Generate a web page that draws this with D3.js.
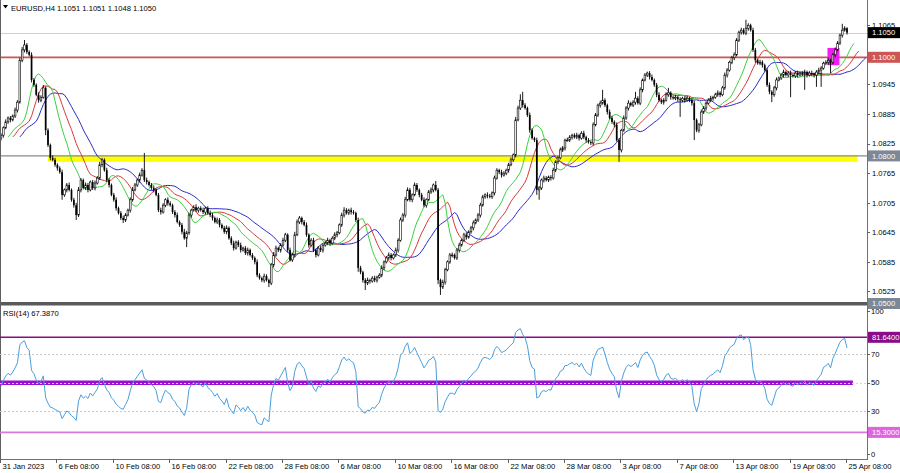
<!DOCTYPE html>
<html><head><meta charset="utf-8">
<script src="https://cdn.jsdelivr.net/npm/d3@7"></script>
<style>
html,body{margin:0;padding:0;background:#fff;}
svg{display:block;font-family:"Liberation Sans",Arial,sans-serif;}
</style></head><body>
<svg id="c" width="900" height="473"></svg>
<script>
// ---------------- DATA ----------------
const titleText = "EURUSD,H4  1.1051 1.1051 1.1048 1.1050";
const rsiTitle = "RSI(14) 67.3870";
const firstOpen = 1.0835;
const closes = [
1.0842,1.0857,1.0869,1.0877,1.0873,1.0881,1.0893,1.0909,1.0994,1.1015,
1.1025,1.1011,1.1005,1.0954,1.0944,1.0924,1.0913,1.0919,1.0938,1.0852,
1.0822,1.0796,1.0792,1.0782,1.0775,1.0767,1.0721,1.0731,1.0741,1.0731,
1.0711,1.0700,1.0680,1.0731,1.0751,1.0735,1.0741,1.0731,1.0747,1.0735,
1.0745,1.0755,1.0782,1.0792,1.0771,1.0751,1.0741,1.0721,1.0711,1.0694,
1.0684,1.0674,1.0670,1.0680,1.0690,1.0711,1.0731,1.0741,1.0751,1.0761,
1.0771,1.0751,1.0747,1.0741,1.0735,1.0731,1.0721,1.0690,1.0686,1.0700,
1.0711,1.0704,1.0700,1.0686,1.0680,1.0666,1.0660,1.0646,1.0633,1.0644,
1.0680,1.0690,1.0696,1.0690,1.0694,1.0690,1.0686,1.0694,1.0684,1.0680,
1.0674,1.0666,1.0670,1.0660,1.0654,1.0646,1.0654,1.0633,1.0623,1.0613,
1.0625,1.0619,1.0609,1.0613,1.0603,1.0609,1.0599,1.0593,1.0585,1.0558,
1.0552,1.0548,1.0556,1.0548,1.0542,1.0579,1.0599,1.0613,1.0609,1.0619,
1.0629,1.0640,1.0609,1.0589,1.0599,1.0640,1.0666,1.0674,1.0666,1.0660,
1.0640,1.0619,1.0629,1.0609,1.0599,1.0613,1.0609,1.0619,1.0623,1.0629,
1.0623,1.0633,1.0640,1.0644,1.0660,1.0680,1.0690,1.0684,1.0690,1.0686,
1.0684,1.0670,1.0573,1.0564,1.0548,1.0542,1.0548,1.0546,1.0552,1.0548,
1.0554,1.0558,1.0573,1.0585,1.0593,1.0599,1.0593,1.0599,1.0609,1.0629,
1.0670,1.0680,1.0711,1.0731,1.0711,1.0721,1.0741,1.0731,1.0721,1.0711,
1.0700,1.0711,1.0727,1.0731,1.0741,1.0731,1.0548,1.0534,1.0544,1.0569,
1.0585,1.0599,1.0599,1.0593,1.0609,1.0619,1.0629,1.0640,1.0635,1.0646,
1.0654,1.0664,1.0670,1.0680,1.0700,1.0717,1.0721,1.0719,1.0717,1.0725,
1.0755,1.0771,1.0767,1.0761,1.0765,1.0771,1.0782,1.0792,1.0802,1.0873,
1.0897,1.0913,1.0903,1.0897,1.0883,1.0852,1.0836,1.0832,1.0731,1.0735,
1.0751,1.0755,1.0751,1.0757,1.0755,1.0771,1.0788,1.0796,1.0812,1.0816,
1.0832,1.0832,1.0838,1.0842,1.0838,1.0842,1.0836,1.0846,1.0838,1.0832,
1.0828,1.0826,1.0863,1.0883,1.0903,1.0907,1.0913,1.0903,1.0889,1.0877,
1.0869,1.0863,1.0832,1.0812,1.0852,1.0877,1.0897,1.0907,1.0903,1.0909,
1.0917,1.0907,1.0934,1.0954,1.0964,1.0968,1.0960,1.0954,1.0944,1.0924,
1.0913,1.0909,1.0913,1.0924,1.0928,1.0919,1.0917,1.0919,1.0915,1.0913,
1.0917,1.0913,1.0917,1.0913,1.0907,1.0873,1.0852,1.0863,1.0889,1.0897,
1.0907,1.0913,1.0917,1.0919,1.0924,1.0928,1.0924,1.0938,1.0964,1.0974,
1.0990,1.0999,1.1005,1.1035,1.1051,1.1055,1.1049,1.1059,1.1065,1.1055,
1.1015,1.0994,1.0988,1.0990,1.0984,1.0974,1.0944,1.0930,1.0924,1.0938,
1.0954,1.0958,1.0964,1.0970,1.0964,1.0968,1.0964,1.0962,1.0968,1.0964,
1.0968,1.0966,1.0970,1.0964,1.0968,1.0966,1.0964,1.0970,1.0974,1.0978,
1.0988,1.0990,1.0994,1.0990,1.1005,1.1015,1.1029,1.1045,1.1055,1.1059,
1.1050];
const upWickPips = [
4,3,5,3,4,3,5,4,5,6, 10,4,3,5,4,3,5,4,6,3, 4,3,5,4,3,4,5,3,4,5, 3,4,5,6,4,3,5,4,3,4,
5,4,6,4,3,5,4,3,4,5, 3,4,5,4,3,5,6,4,3,5, 4,35,5,3,4,5,3,4,5,4, 3,5,4,3,4,5,3,4,6,4,
5,3,4,6,3,4,5,3,4,5, 4,3,5,4,3,4,5,3,4,5, 3,4,5,3,4,5,3,4,3,5, 4,3,5,4,3,4,6,5,3,4,
5,4,3,5,4,6,5,4,3,4, 5,3,4,5,3,4,5,3,4,5, 3,4,5,4,3,5,6,4,3,5, 4,3,5,4,3,4,5,3,4,5,
3,4,5,3,4,5,4,3,5,4, 5,4,6,5,4,3,5,4,3,4, 5,3,4,5,3,8,4,3,5,4, 3,4,5,3,4,5,3,4,5,3,
4,5,3,4,5,4,3,5,4,3, 5,4,3,5,4,3,4,5,3,6, 5,12,17,4,3,5,4,3,5,4, 3,5,4,3,4,5,3,4,5,4,
3,5,4,3,4,5,3,4,5,3, 4,3,5,4,3,5,21,4,3,5, 4,3,5,4,3,5,4,6,3,4, 13,4,5,3,4,3,4,5,3,4,
5,3,4,5,10,3,4,5,3,4, 3,4,5,3,4,5,3,4,5,4, 3,4,5,3,4,5,3,4,5,4, 3,4,5,4,3,5,4,17,4,3,
5,4,3,5,4,3,4,5,3,4, 5,3,4,5,3,4,5,3,4,5, 3,4,5,3,4,5,3,4,5,4, 3,4,5,3,4,5,4,3,13,4,
2];
const dnWickPips = [
4,5,3,4,5,3,4,5,3,4, 5,4,3,5,4,3,5,4,3,10, 4,5,3,4,5,3,10,4,5,3, 4,5,10,4,5,3,4,5,3,4,
5,3,4,5,3,4,5,3,4,5, 3,4,6,4,3,5,4,3,4,5, 3,4,5,3,4,5,3,4,5,3, 4,5,3,4,5,3,4,5,3,18,
4,5,3,4,5,3,4,5,3,4, 5,3,4,5,3,4,5,3,4,5, 3,4,5,3,4,5,3,4,5,4, 3,4,5,3,8,4,5,3,4,5,
3,4,5,3,4,5,3,4,5,3, 4,5,3,4,5,3,4,5,3,4, 5,3,4,5,3,4,5,3,4,5, 3,4,8,4,5,14,4,5,3,4,
5,3,4,5,3,4,5,3,4,5, 3,4,5,3,4,5,3,4,5,3, 4,5,3,4,5,3,8,16,4,5, 3,4,5,3,4,5,3,4,5,3,
4,5,3,4,5,3,4,5,3,4, 5,3,4,5,3,4,5,3,4,5, 3,4,5,3,4,5,3,4,10,20, 4,5,3,4,5,3,4,5,3,4,
5,3,4,5,3,4,5,3,4,5, 3,4,5,3,4,5,3,4,5,3, 4,5,3,24,5,3,4,5,3,4, 5,3,4,5,3,4,5,3,4,5,
3,4,5,3,4,5,3,4,5,34, 4,5,3,4,5,41,4,5,3,4, 5,3,4,5,3,4,5,3,4,5, 3,4,5,3,4,5,3,4,5,3,
4,5,3,4,5,3,4,5,15,4, 5,3,4,5,3,4,45,3,4,5, 3,4,32,5,3,4,5,24,4,34, 3,4,5,22,4,5,3,4,5,3,
4];
const timeLabels = ["31 Jan 2023","6 Feb 08:00","10 Feb 08:00","16 Feb 08:00","22 Feb 08:00","28 Feb 08:00","6 Mar 08:00","10 Mar 08:00","16 Mar 08:00","22 Mar 08:00","28 Mar 08:00","3 Apr 08:00","7 Apr 08:00","13 Apr 08:00","19 Apr 08:00","25 Apr 08:00"];
const timeLabelBars = [0,24,48,72,96,120,144,168,192,216,240,264,288,312,336,360];
const priceTicks = [1.0525,1.0585,1.0645,1.0705,1.0765,1.0825,1.0885,1.0945,1.1065];
const rsiTicks = [0,30,50,70,100];
const bidPrice = 1.1050;
const resistanceLevel = 1.1000;
const supportLevel = 1.0800;
const supportBand = [1.0788, 1.0801];
const supportBandBars = [20, 364.5];
const bottomLevel = 1.0500;
const pinkBoxBars = [351.7, 356.8];
const pinkBoxPrices = [1.0984, 1.1019];
const rsiHigh = 81.64, rsiLow = 15.30, rsiMid = 50;
// average gain / loss (pips) carried in from the bars before the first visible one
const rsiSeedGainPips = 6.5, rsiSeedLossPips = 7.2;
const alligator = [ {n:13, shift:8, color:"#2b2bc8"}, {n:8, shift:5, color:"#d83a3a"}, {n:5, shift:3, color:"#3cd03c"} ];

// ---------------- BUILD ----------------
const bars = closes.map((c,i)=>{
  const o = i===0 ? firstOpen : closes[i-1];
  return {i, o, c, h: Math.max(o,c)+upWickPips[i]*1e-4, l: Math.min(o,c)-dnWickPips[i]*1e-4};
});

const svg = d3.select("#c");
const W = 900, H = 473, plotR = 867, mainBottom = 302.5;
const x = d3.scaleLinear().domain([0,360]).range([1,847]);
const y = d3.scaleLinear().domain([1.05,1.1]).range([303.8,57.3]);
const yr = d3.scaleLinear().domain([0,100]).range([454.3,311]);

svg.append("rect").attr("width",W).attr("height",H).attr("fill","#fff");
const defs = svg.append("defs");
defs.append("clipPath").attr("id","mainClip").append("rect").attr("x",0).attr("y",0).attr("width",plotR).attr("height",mainBottom);
defs.append("clipPath").attr("id","rsiClip").append("rect").attr("x",0).attr("y",306).attr("width",plotR).attr("height",153);

const main = svg.append("g").attr("clip-path","url(#mainClip)");

// bid line
main.append("line").attr("x1",0).attr("x2",plotR).attr("y1",Math.round(y(bidPrice))+0.5).attr("y2",Math.round(y(bidPrice))+0.5)
  .attr("stroke","#d0d0d0").attr("stroke-width",1.2);
// support band
main.append("rect").attr("x",x(supportBandBars[0])).attr("width",x(supportBandBars[1])-x(supportBandBars[0]))
  .attr("y",y(supportBand[1])).attr("height",y(supportBand[0])-y(supportBand[1])).attr("fill","#ffff00");
main.append("line").attr("x1",0).attr("x2",plotR).attr("y1",y(supportLevel)).attr("y2",y(supportLevel))
  .attr("stroke","#8a8a8a").attr("stroke-width",1.2);
// resistance line
main.append("line").attr("x1",0).attr("x2",plotR).attr("y1",y(resistanceLevel)).attr("y2",y(resistanceLevel))
  .attr("stroke","#cc5555").attr("stroke-width",1.8);
// pink box
main.append("rect").attr("x",x(pinkBoxBars[0])).attr("width",x(pinkBoxBars[1])-x(pinkBoxBars[0]))
  .attr("y",y(pinkBoxPrices[1])).attr("height",y(pinkBoxPrices[0])-y(pinkBoxPrices[1])).attr("fill","#f21cf2");

// alligator (SMMA of median price, shifted forward)
const median = bars.map(b=>(b.h+b.l)/2);
function smma(src,n){
  const out=[]; let prev=0;
  for(let i=0;i<src.length;i++){
    if(i<n) prev = d3.mean(src.slice(0,i+1));
    else prev = (prev*(n-1)+src[i])/n;
    out.push(prev);
  }
  return out;
}
alligator.forEach(a=>{
  const v = smma(median,a.n).map((val,i)=>({i:i+a.shift, v:val}));
  main.append("path").datum(v).attr("fill","none").attr("stroke",a.color).attr("stroke-width",1)
    .attr("d", d3.line().x(d=>x(d.i)).y(d=>y(d.v)));
});

// candles
const bw = 1.7;
const cg = main.append("g");
cg.selectAll("line.w").data(bars).join("line").attr("class","w")
  .attr("x1",d=>x(d.i)).attr("x2",d=>x(d.i)).attr("y1",d=>y(d.h)).attr("y2",d=>y(d.l))
  .attr("stroke","#000").attr("stroke-width",0.9);
cg.selectAll("rect.b").data(bars).join("rect").attr("class","b")
  .attr("x",d=>x(d.i)-bw/2).attr("width",bw)
  .attr("y",d=>y(Math.max(d.o,d.c))).attr("height",d=>Math.max(0.8,Math.abs(y(d.o)-y(d.c))))
  .attr("fill",d=>d.c>=d.o?"#fff":"#000").attr("stroke","#000").attr("stroke-width",d=>d.c>=d.o?0.6:0);

// separator & borders
svg.append("rect").attr("x",0).attr("y",302).attr("width",plotR+1).attr("height",3.5).attr("fill","#5a5a5a");
svg.append("line").attr("x1",0.5).attr("x2",0.5).attr("y1",0).attr("y2",459).attr("stroke","#606060");
svg.append("line").attr("x1",plotR+0.5).attr("x2",plotR+0.5).attr("y1",0).attr("y2",459).attr("stroke","#707070");
svg.append("line").attr("x1",0).attr("x2",plotR+1).attr("y1",459.5).attr("y2",459.5).attr("stroke","#707070");

// title
svg.append("path").attr("d","M3,5 L8,5 L5.5,8.5 Z").attr("fill","#000");
svg.append("text").attr("x",11).attr("y",10.5).attr("font-size",7.6).attr("fill","#000").text(titleText);

// price axis
const axG = svg.append("g").attr("font-size",7.6);
priceTicks.forEach(p=>{
  axG.append("line").attr("x1",plotR).attr("x2",plotR+3).attr("y1",Math.round(y(p))+0.5).attr("y2",Math.round(y(p))+0.5).attr("stroke","#606060");
  axG.append("text").attr("x",872).attr("y",y(p)+2.8).attr("fill","#000").text(p.toFixed(4));
});
function tag(val,yy,bg,fmt){
  axG.append("rect").attr("x",868).attr("y",yy-5.5).attr("width",32).attr("height",11).attr("fill",bg);
  axG.append("text").attr("x",872).attr("y",yy+2.8).attr("fill","#fff").text(fmt(val));
}
const f4 = v=>v.toFixed(4);
tag(bidPrice, y(bidPrice), "#000", f4);
tag(resistanceLevel, y(resistanceLevel), "#cc5555", f4);
tag(supportLevel, y(supportLevel), "#7d8896", f4);
tag(bottomLevel, 303.5, "#7d8896", f4);

// ---------------- RSI (Wilder, 14) ----------------
function rsiCalc(cl,n){
  let ag=rsiSeedGainPips*1e-4, al=rsiSeedLossPips*1e-4;
  const out=[{i:0, v:100-100/(1+ag/al)}];
  for(let i=1;i<cl.length;i++){
    const ch=cl[i]-cl[i-1], g=Math.max(ch,0), l=Math.max(-ch,0);
    ag=(ag*(n-1)+g)/n; al=(al*(n-1)+l)/n;
    out.push({i, v: al===0?100:100-100/(1+ag/al)});
  }
  return out;
}
const rsiVals = rsiCalc(closes,14);
const rg = svg.append("g").attr("clip-path","url(#rsiClip)");
rg.append("line").attr("x1",0).attr("x2",x(362.5)).attr("y1",yr(rsiMid)).attr("y2",yr(rsiMid)).attr("stroke","#9a10d0").attr("stroke-width",4.5);
[70,50,30].forEach(v=>{
  rg.append("line").attr("x1",0).attr("x2",plotR).attr("y1",Math.round(yr(v))+0.5).attr("y2",Math.round(yr(v))+0.5)
    .attr("stroke",v===50?"#e8c8f8":"#c8c8c8").attr("stroke-dasharray","2,2").attr("stroke-width",1);
});
rg.append("line").attr("x1",0).attr("x2",plotR).attr("y1",yr(rsiHigh)).attr("y2",yr(rsiHigh)).attr("stroke","#8a0a8a").attr("stroke-width",1.6);
rg.append("line").attr("x1",0).attr("x2",plotR).attr("y1",yr(rsiLow)).attr("y2",yr(rsiLow)).attr("stroke","#d878d8").attr("stroke-width",1.6);
rg.append("path").datum(rsiVals).attr("fill","none").attr("stroke","#4a9ede").attr("stroke-width",1)
  .attr("d", d3.line().x(d=>x(d.i)).y(d=>yr(d.v)));
svg.append("text").attr("x",3).attr("y",316).attr("font-size",7.6).attr("fill","#000").text(rsiTitle);

rsiTicks.forEach(v=>{
  axG.append("line").attr("x1",plotR).attr("x2",plotR+3).attr("y1",Math.round(yr(v))+0.5).attr("y2",Math.round(yr(v))+0.5).attr("stroke","#606060");
  axG.append("text").attr("x",871).attr("y",yr(v)+2.8).attr("fill","#000").text(v);
});
tag(rsiHigh, yr(rsiHigh), "#8a0a8a", f4);
tag(rsiLow, yr(rsiLow), "#dd66dd", f4);

// time axis
const tg = svg.append("g").attr("font-size",7.6);
timeLabels.forEach((t,k)=>{
  const xx = Math.round(x(timeLabelBars[k]))-0.5;
  tg.append("line").attr("x1",xx).attr("x2",xx).attr("y1",459).attr("y2",463).attr("stroke","#606060");
  tg.append("text").attr("x",xx+2).attr("y",469).attr("fill","#000").text(t);
});
</script>
</body></html>
